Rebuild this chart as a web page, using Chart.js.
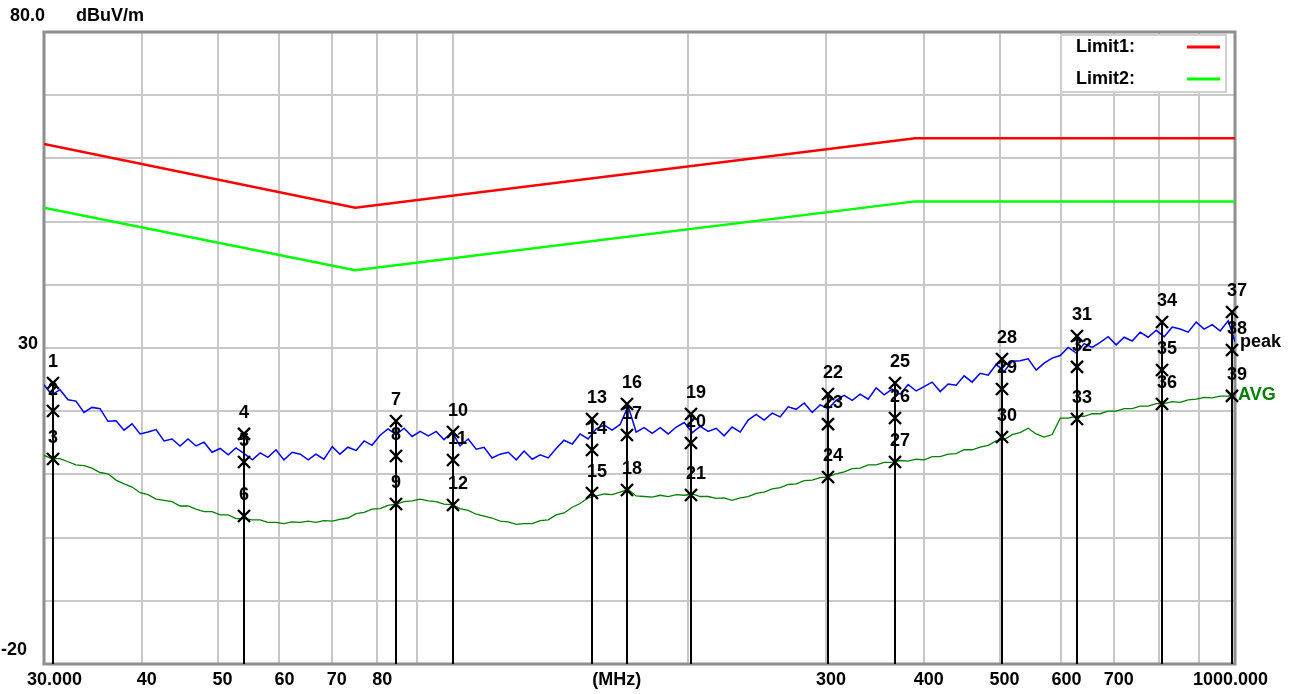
<!DOCTYPE html>
<html><head><meta charset="utf-8">
<script src="https://cdn.jsdelivr.net/npm/chart.js@4.4.0/dist/chart.umd.min.js"></script>
<style>html,body{margin:0;padding:0;background:#fff;overflow:hidden}canvas{display:block}</style>
</head><body>
<canvas id="c" width="1300" height="694"></canvas>
<script>
// ---- data ----
const freqMHz=[30.0,30.7,31.45,32.2,32.96,33.75,34.55,35.38,36.22,37.09,
37.97,38.88,39.81,40.75,41.73,42.72,43.74,44.78,45.85,46.94,
48.06,49.2,50.4,51.6,52.8,54.1,55.4,56.7,58.0,59.4,
60.8,62.3,63.8,65.3,66.8,68.4,70.1,71.7,73.4,75.2,
77.0,78.8,80.7,82.6,84.6,86.6,88.7,90.8,93.0,95.2,
97.4,99.8,102.1,104.6,107.1,109.6,112.2,114.9,117.7,120.5,
123.3,126.3,129.3,132.4,135.5,138.7,142.1,145.4,148.9,152.5,
156.1,159.8,163.6,167.5,171.5,175.6,179.8,184.1,188.5,193.0,
197.6,202.3,207.1,212.0,217.1,222.2,227.5,233.0,238.5,244.2,
250.0,256.0,262.1,268.3,274.7,281.3,288.0,294.8,301.9,309.0,
316.4,324.0,331.7,339.6,347.7,356.0,364.4,373.1,382.0,391.1,
400.4,410.0,419.8,429.8,440.0,450.5,461.2,472.2,483.5,495.0,
506.8,518.9,531.2,543.9,556.9,570.1,583.7,597.7,611.9,626.5,
641.4,656.7,672.3,688.4,704.8,721.6,738.8,756.4,774.4,792.9,
811.8,831.1,850.9,871.2,892.0,913.2,935.0,957.3,980.1,1000];
const peakDb=[24.2,22.6,23.4,21.8,21.6,19.8,20.6,20.4,18.4,18.5,
17.0,18.0,16.4,16.7,17.1,15.3,15.6,14.5,15.6,14.5,
15.1,13.5,14.1,13.1,14.2,13.3,12.3,13.4,12.7,13.9,
12.3,13.5,13.2,12.3,13.2,12.4,14.4,13.2,14.3,13.8,
15.3,14.6,16.2,17.2,16.3,17.3,16.0,16.8,16.1,16.8,
15.5,16.7,14.5,15.6,14.0,14.3,12.6,13.2,13.5,12.3,
13.7,12.4,13.1,12.6,14.1,15.4,14.8,16.4,15.6,17.2,
17.8,17.0,17.9,20.8,16.7,17.4,16.5,17.4,16.4,17.5,
18.2,16.6,17.6,16.8,17.3,16.1,17.5,16.7,18.6,19.5,
18.6,19.7,19.1,20.7,20.3,21.3,19.8,21.0,20.4,21.7,
22.5,21.7,22.7,21.9,23.7,22.6,23.5,22.7,24.2,23.2,
23.9,24.6,23.1,24.3,24.1,25.6,24.6,26.0,25.7,27.4,
26.3,27.9,28.0,28.3,26.5,27.6,28.4,28.8,30.1,29.2,
30.7,30.1,30.9,31.8,30.5,31.7,31.1,32.5,31.7,32.8,
31.8,33.3,33.0,32.5,34.1,33.0,33.7,32.7,34.3,31.0];
const avgDb=[13.0,12.5,12.5,12.0,11.5,11.4,11.0,10.3,10.1,9.1,
8.5,8.0,7.1,6.8,6.1,5.9,5.7,5.0,5.0,4.5,
4.1,4.1,3.6,3.6,3.0,3.0,2.8,2.8,2.4,2.4,
2.2,2.5,2.4,2.6,2.4,2.7,2.6,2.9,3.1,3.8,
4.0,4.5,4.6,5.1,5.3,5.7,5.8,6.1,5.8,5.7,
5.3,5.2,4.6,4.3,3.7,3.4,3.1,2.6,2.5,2.1,
2.2,2.2,2.7,2.8,3.6,3.9,4.8,5.4,6.3,6.6,
6.9,6.8,7.2,7.6,6.6,6.5,6.4,6.7,6.5,6.8,
6.7,6.9,6.5,6.5,6.2,6.3,5.9,6.3,6.5,7.0,
7.2,7.7,7.9,8.4,8.5,9.0,9.1,9.5,9.6,10.1,
10.4,10.9,11.0,11.5,11.5,11.9,11.9,12.2,12.1,12.4,
12.3,12.8,12.8,13.2,13.3,13.9,13.9,14.3,14.6,15.3,
15.5,16.3,16.6,17.3,16.4,15.9,16.3,18.9,18.9,19.2,
19.2,19.6,19.6,20.0,20.0,20.4,20.4,20.8,20.8,21.2,
21.2,21.5,21.4,21.8,21.9,22.2,22.1,22.4,22.4,22.6];
const limitFreq=[30,75,390,1000];
const limit1Db=[62.3,52.2,63.2,63.2];
const limit2Db=[52.2,42.3,53.2,53.2];
const markerNo=[1,2,3,4,5,6,7,8,9,10,11,12,13,14,15,16,17,18,19,20,21,22,23,24,25,26,27,28,29,30,31,32,33,34,35,36,37,38,39];
const markerFreq=[30.78,30.78,30.78,54.0,54.0,54.0,84.5,84.5,84.5,99.9,99.9,99.9,
150.5,150.5,150.5,166.8,166.8,166.8,201.4,201.4,201.4,301.5,301.5,301.5,
367,367,367,503,503,503,628,628,628,806,806,806,991,991,991];
const markerDb=[24.46,20.03,12.44,16.4,11.96,3.42,18.45,12.91,5.32,16.71,12.28,5.16,
18.77,13.86,7.06,21.14,16.23,7.53,19.56,14.97,6.74,22.72,17.97,9.59,
24.46,18.92,11.96,28.26,23.51,15.92,31.9,27.0,18.77,34.11,26.52,21.14,35.7,29.68,22.41];
const xGridValues=[30,40,50,60,70,80,90,100,200,300,400,500,600,700,800,900,1000];
const xLabelValues=[30,40,50,60,70,80,300,400,500,600,700,1000];
const xLabelTexts=['30.000','40','50','60','70','80','300','400','500','600','700','1000.000'];
const xUnitText='(MHz)';
const xUnitAt=162;
const yMin=-20, yMax=80, yStep=10;
const yLabelValues=[80,30,-20];
const yLabelTexts=['80.0','30','-20'];
const yUnitText='dBuV/m';
const legendNames=['Limit1:','Limit2:'];
const traceNames=['peak','AVG'];

// ---- chart ----
const FONT='"Liberation Sans", Arial, sans-serif';
const pts=(xs,ys)=>xs.map((x,i)=>({x:x,y:ys[i]}));

const overlay={
  id:'overlay',
  beforeDatasetsDraw(chart){
    const a=chart.chartArea, c=chart.ctx;
    c.save();
    c.strokeStyle='#8e8e8e'; c.lineWidth=3;
    c.strokeRect(a.left,a.top,a.right-a.left,a.bottom-a.top);
    c.restore();
  },
  afterDatasetsDraw(chart){
    const c=chart.ctx, xs=chart.scales.x, ys=chart.scales.y, a=chart.chartArea;
    c.save();
    c.strokeStyle='#000'; c.lineWidth=2;
    markerFreq.forEach((f,i)=>{
      const px=Math.round(xs.getPixelForValue(f));
      c.beginPath(); c.moveTo(px,ys.getPixelForValue(markerDb[i])); c.lineTo(px,a.bottom); c.stroke();
    });
    c.lineWidth=2.4;
    markerFreq.forEach((f,i)=>{
      const px=Math.round(xs.getPixelForValue(f)), py=ys.getPixelForValue(markerDb[i]);
      c.beginPath(); c.moveTo(px-6,py-6); c.lineTo(px+6,py+6); c.moveTo(px+6,py-6); c.lineTo(px-6,py+6); c.stroke();
    });
    c.fillStyle='#000'; c.font='bold 18px '+FONT; c.textAlign='left'; c.textBaseline='middle';
    markerFreq.forEach((f,i)=>{
      const px=Math.round(xs.getPixelForValue(f)), py=ys.getPixelForValue(markerDb[i]);
      c.fillText(String(markerNo[i]),px-5,py-21);
    });
    const last=freqMHz.length-1;
    c.fillStyle='#000'; c.font='bold 18px '+FONT;
    c.fillText(traceNames[0],a.right+5,ys.getPixelForValue(peakDb[last]));
    c.fillStyle='#008000';
    c.fillText(traceNames[1],a.right+3,ys.getPixelForValue(avgDb[last]));
    c.restore();
  },
  afterDraw(chart){
    const c=chart.ctx, xs=chart.scales.x, ys=chart.scales.y, a=chart.chartArea;
    c.save();
    c.fillStyle='#000'; c.font='bold 18px '+FONT; c.textBaseline='middle';
    xLabelValues.forEach((v,i)=>{
      const px=xs.getPixelForValue(v);
      if(i===0){c.textAlign='left'; c.fillText(xLabelTexts[i],px-17,680);}
      else if(i===xLabelValues.length-1){c.textAlign='right'; c.fillText(xLabelTexts[i],px+33,680);}
      else {c.textAlign='center'; c.fillText(xLabelTexts[i],px+5,680);}
    });
    c.textAlign='center'; c.fillText(xUnitText,xs.getPixelForValue(xUnitAt),680);
    c.textAlign='left'; c.fillText(yLabelTexts[0],10,ys.getPixelForValue(yLabelValues[0])-16);
    c.fillText(yUnitText,76,ys.getPixelForValue(yLabelValues[0])-16);
    c.textAlign='right'; c.fillText(yLabelTexts[1],38,ys.getPixelForValue(yLabelValues[1])-4);
    c.textAlign='left'; c.fillText(yLabelTexts[2],1,ys.getPixelForValue(yLabelValues[2])-14);
    c.fillStyle='#fff'; c.fillRect(1061,35,165,57);
    c.strokeStyle='#d0d0d0'; c.lineWidth=2; c.strokeRect(1061,35,165,57);
    c.fillStyle='#000'; c.textAlign='left';
    c.fillText(legendNames[0],1076,47);
    c.fillText(legendNames[1],1076,79);
    c.lineWidth=3;
    c.strokeStyle='#ff0000'; c.beginPath(); c.moveTo(1187,47); c.lineTo(1220,47); c.stroke();
    c.strokeStyle='#00ff00'; c.beginPath(); c.moveTo(1187,79); c.lineTo(1220,79); c.stroke();
    c.restore();
  }
};

new Chart(document.getElementById('c'),{
  type:'scatter',
  data:{datasets:[
    {label:'peak',data:pts(freqMHz,peakDb),showLine:true,borderColor:'#0000ff',borderWidth:1.5,pointRadius:0,tension:0},
    {label:'AVG',data:pts(freqMHz,avgDb),showLine:true,borderColor:'#008000',borderWidth:1.3,pointRadius:0,tension:0},
    {label:'Limit1',data:pts(limitFreq,limit1Db),showLine:true,borderColor:'#ff0000',borderWidth:2.5,pointRadius:0,tension:0},
    {label:'Limit2',data:pts(limitFreq,limit2Db),showLine:true,borderColor:'#00ff00',borderWidth:2.5,pointRadius:0,tension:0}
  ]},
  options:{
    responsive:false, animation:false, events:[],
    layout:{padding:{left:44,right:65,top:32,bottom:30}},
    plugins:{legend:{display:false},tooltip:{enabled:false}},
    scales:{
      x:{type:'logarithmic',min:30,max:1000,
         afterBuildTicks:(s)=>{s.ticks=xGridValues.map(v=>({value:v}));},
         ticks:{display:false},grid:{color:'#c8c8c8',lineWidth:2,drawTicks:false},border:{display:false}},
      y:{type:'linear',min:yMin,max:yMax,ticks:{display:false,stepSize:yStep},
         grid:{color:'#c8c8c8',lineWidth:2,drawTicks:false},border:{display:false}}
    }
  },
  plugins:[overlay]
});
</script>
</body></html>
